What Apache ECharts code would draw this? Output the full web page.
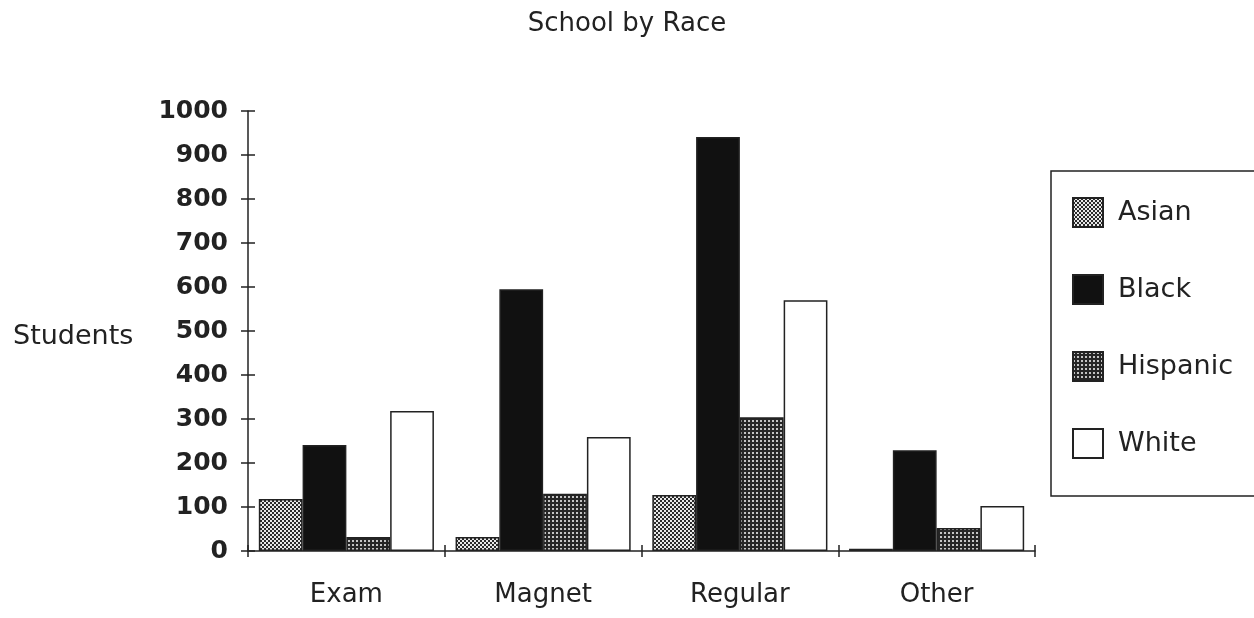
<!DOCTYPE html>
<html>
<head>
<meta charset="utf-8">
<title>School by Race</title>
<script src="https://cdn.jsdelivr.net/npm/echarts@6/dist/echarts.min.js"></script>
<style>
  html, body {
    margin: 0;
    padding: 0;
    background: #ffffff;
  }
  #chart {
    width: 1254px;
    height: 618px;
  }
</style>
</head>
<body>
<div id="chart"></div>
<script>
// 数据
const categories = ['Exam', 'Magnet', 'Regular', 'Other'];
const asian = [118, 32, 127, 5];
const black = [241, 595, 941, 229];
const hispanic = [32, 130, 304, 52];
const white = [318, 259, 570, 102];
const yTicks = [0, 100, 200, 300, 400, 500, 600, 700, 800, 900, 1000];

const font = 'DejaVu Sans';
const ink = '#222222';

// 点状填充图案
function makePattern(size, bg, fg, cells) {
  const c = document.createElement('canvas');
  c.width = size;
  c.height = size;
  const ctx = c.getContext('2d');
  ctx.fillStyle = bg;
  ctx.fillRect(0, 0, size, size);
  ctx.fillStyle = fg;
  cells.forEach((p) => ctx.fillRect(p[0], p[1], p[2], p[2]));
  return { image: c, repeat: 'repeat' };
}

const asianFill = makePattern(4, '#e8e8e8', '#2a2a2a', [[0, 0, 2], [2, 2, 2]]);
const hispanicFill = makePattern(4, '#262626', '#c4c4c4', [[0, 0, 2]]);

function barSeries(name, data, fill) {
  return {
    name: name,
    type: 'bar',
    data: data,
    barGap: '0%',
    barCategoryGap: '11%',
    itemStyle: {
      color: fill,
      borderColor: ink,
      borderWidth: 1.5,
    },
  };
}

const chart = echarts.init(document.getElementById('chart'));

chart.setOption({
  animation: false,
  backgroundColor: '#ffffff',
  title: [
    {
      text: 'School by Race',
      left: 'center',
      top: 6,
      textStyle: { fontFamily: font, fontSize: 26, fontWeight: 'normal', color: ink },
    },
    {
      text: 'Students',
      left: 8,
      top: 318,
      textStyle: { fontFamily: font, fontSize: 27, fontWeight: 'normal', color: ink },
    },
  ],
  grid: {
    left: 248,
    right: 219,
    top: 111,
    bottom: 67,
    outerBoundsMode: 'none',
  },
  legend: {
    orient: 'vertical',
    left: 1051,
    top: 171,
    padding: [26, 300, 37, 21],
    borderColor: ink,
    borderWidth: 1.5,
    icon: 'rect',
    itemWidth: 30,
    itemHeight: 29,
    itemGap: 46,
    textStyle: {
      fontFamily: font,
      fontSize: 27,
      color: ink,
      padding: [0, 0, 0, 10],
    },
    data: ['Asian', 'Black', 'Hispanic', 'White'],
  },
  xAxis: [
    {
      type: 'category',
      data: categories,
      axisLine: { lineStyle: { color: ink, width: 1.5 } },
      axisTick: { show: true, length: 6, lineStyle: { color: ink, width: 1.5 } },
      axisLabel: {
        fontFamily: font,
        fontSize: 26,
        color: ink,
        margin: 31,
      },
    },
    {
      // 向内的刻度，形成十字刻度
      type: 'category',
      data: categories,
      position: 'bottom',
      offset: 0,
      axisLine: { show: false },
      axisTick: { show: true, inside: true, length: 6, lineStyle: { color: ink, width: 1.5 } },
      axisLabel: { show: false },
    },
  ],
  yAxis: [
    {
      type: 'value',
      min: yTicks[0],
      max: yTicks[yTicks.length - 1],
      interval: 100,
      axisLine: { show: true, lineStyle: { color: ink, width: 1.5 } },
      axisTick: { show: true, length: 7, lineStyle: { color: ink, width: 1.5 } },
      axisLabel: {
        fontFamily: font,
        fontSize: 25,
        fontWeight: 'bold',
        color: ink,
        margin: 20,
        formatter: (v) => String(v),
      },
      splitLine: { show: false },
    },
    {
      // 向内的刻度
      type: 'value',
      position: 'left',
      offset: 0,
      min: yTicks[0],
      max: yTicks[yTicks.length - 1],
      interval: 100,
      axisLine: { show: false },
      axisTick: { show: true, inside: true, length: 7, lineStyle: { color: ink, width: 1.5 } },
      axisLabel: { show: false },
      splitLine: { show: false },
    },
  ],
  series: [
    barSeries('Asian', asian, asianFill),
    barSeries('Black', black, '#111111'),
    barSeries('Hispanic', hispanic, hispanicFill),
    barSeries('White', white, '#ffffff'),
  ],
});
</script>
</body>
</html>
